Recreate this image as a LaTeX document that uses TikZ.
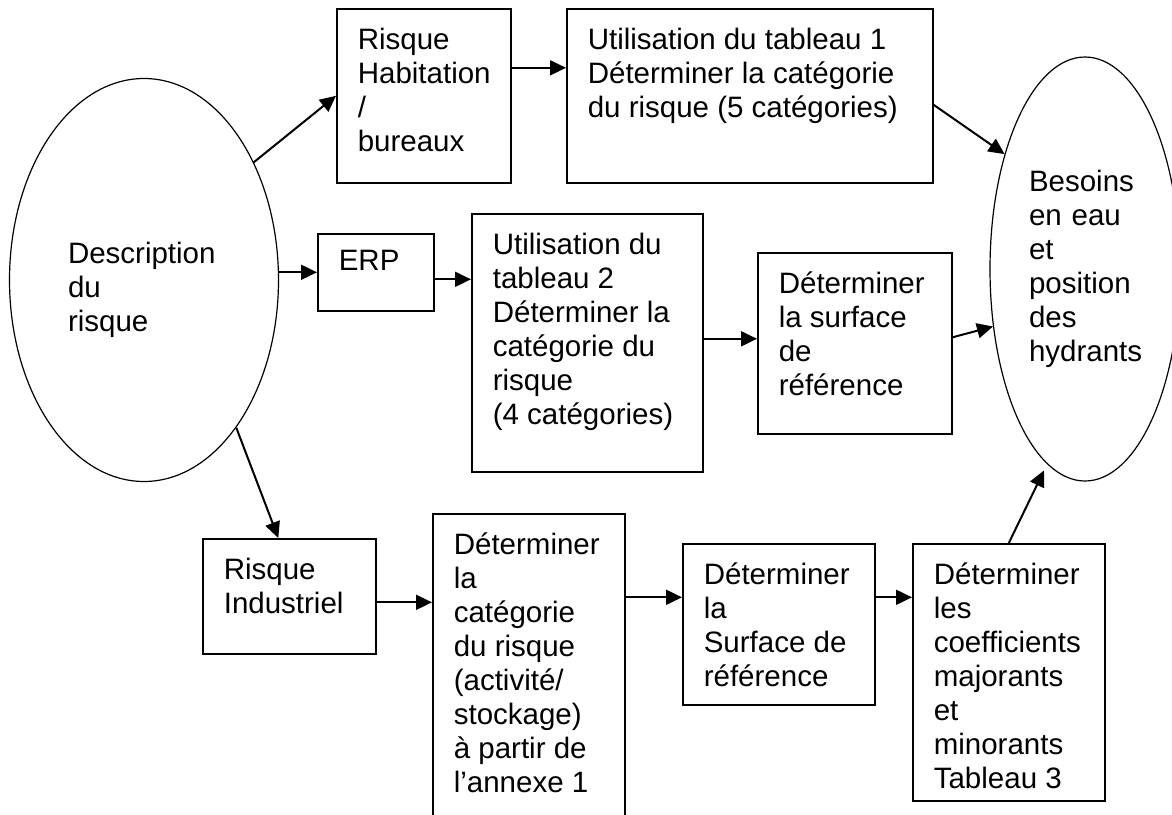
\documentclass[tikz,border=0pt]{standalone}
\usepackage{fontspec}
\setmainfont{Liberation Sans}
\usetikzlibrary{arrows.meta,shapes.geometric}

% top-left aligned text inside a fixed box: [first line height]{width}{height}{text}
\newcommand{\boxtext}[4][40.5]{\parbox[c][#3pt][t]{#2pt}{\raggedright\leftskip=21pt\rule{0pt}{#1pt}#4}}

\begin{document}
\begin{tikzpicture}[x=1pt, y=-1pt,
    every node/.style={font=\fontsize{29.5}{34}\selectfont},
    stepbox/.style={draw, line width=1.6pt, anchor=north west, inner sep=0pt},
    bubble/.style={draw, ellipse, line width=1.2pt, inner sep=0pt, align=left},
    flow/.style={-{Triangle[length=16pt,width=15pt]}, line width=2pt}]
    \useasboundingbox (0,0) rectangle (1172,814);
    \clip (0,0) rectangle (1172,814);

    % Start and end of the chain
    \node[bubble, minimum width=269pt, minimum height=403pt, text width=152pt] (desc) at (144,280) {\rule{0pt}{42pt}Description\\du\\risque};
    \node[bubble, minimum width=190pt, minimum height=424pt, text width=112pt] (besoin) at (1085,269) {Besoins\\en eau\\et\\position\\des\\hydrants};

    % Habitation branch
    \node[stepbox] (hab) at (336,8) {\boxtext{174}{174}{Risque\\Habitation\\/\\bureaux}};
    \node[stepbox] (tab1) at (566,8) {\boxtext{366}{174}{Utilisation du tableau 1\\Déterminer la catégorie\\du risque (5 catégories)}};

    % ERP branch
    \node[stepbox] (erp) at (317,233) {\boxtext[37]{116}{77}{ERP}};
    \node[stepbox] (tab2) at (471,213) {\boxtext{231}{258}{Utilisation du\\tableau 2\\Déterminer la\\catégorie du\\risque\\(4 catégories)}};
    \node[stepbox] (surf) at (757,252) {\boxtext{194}{181}{Déterminer\\la surface\\de\\référence}};

    % Industrial branch
    \node[stepbox] (ri) at (202,538) {\boxtext{173}{115}{Risque\\Industriel}};
    \node[stepbox] (cat) at (432,513) {\boxtext{192}{317}{Déterminer\\la\\catégorie\\du risque\\(activité/\\stockage)\\à partir de\\l’annexe 1}};
    \node[stepbox] (surf2) at (682,543) {\boxtext{192}{161}{Déterminer\\la\\Surface de\\référence}};
    \node[stepbox] (coef) at (912,543) {\boxtext{192}{257}{Déterminer\\les\\coefficients\\majorants\\et\\minorants\\Tableau 3}};

    % Connectors
    \draw[flow] (desc.47) -- (hab.west);
    \draw[flow] ([yshift=28pt]hab.east) -- ([yshift=28pt]tab1.west);
    \draw[flow] ([yshift=-9pt]tab1.east) -- (besoin.125);
    \draw[flow] (erp.west -| desc.east) -- (erp.west);
    \draw[flow] ([yshift=-7pt]erp.east) -- ([yshift=-7pt]erp.east -| tab2.west);
    \draw[flow] ([yshift=4pt]tab2.east) -- ([yshift=4pt]tab2.east -| surf.west);
    \draw[flow] ([yshift=6pt]surf.east) -- (besoin.212);
    \draw[flow] (desc.-58) -- ([xshift=-11pt]ri.north);
    \draw[flow] ([yshift=-6pt]ri.east) -- ([yshift=-6pt]ri.east -| cat.west);
    \draw[flow] ([yshift=27pt]surf2.west -| cat.east) -- ([yshift=27pt]surf2.west);
    \draw[flow] ([yshift=27pt]surf2.east) -- ([yshift=27pt]surf2.east -| coef.west);
    \draw[flow, shorten >=7pt] (coef.north) -- (besoin.259);
\end{tikzpicture}
\end{document}
